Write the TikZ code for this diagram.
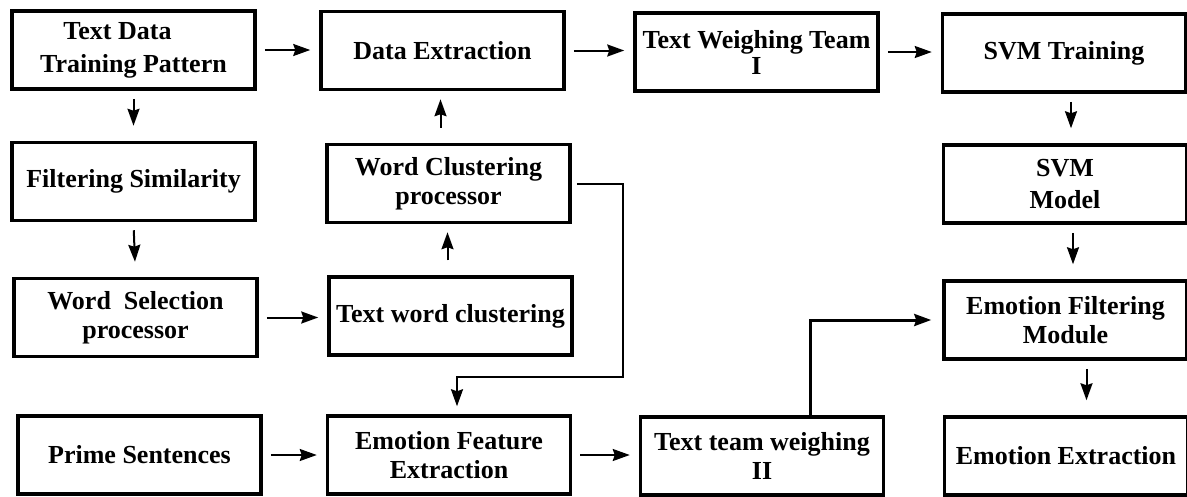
\documentclass[tikz,border=0pt]{standalone}
\usepackage{fontspec}
\setmainfont{Liberation Serif}
\usetikzlibrary{arrows.meta, calc}

\begin{document}
\begin{tikzpicture}[x=1pt, y=-1pt,
  blk/.style={draw, line width=3.5pt, minimum width=243pt, minimum height=78pt, inner sep=2pt, align=center, font=\bfseries\fontsize{26}{29}\selectfont},
  flow/.style={line width=2pt, -{Stealth[length=17pt, width=12pt, inset=2pt]}},
  rt/.style={flow, shorten <=8pt, shorten >=9pt},
  dn/.style={flow, shorten <=8pt, shorten >=15pt},
  upw/.style={flow, shorten <=15pt, shorten >=8pt}]
  \useasboundingbox (0,0) rectangle (1187,496);

  % Row 1
  \node[blk] (tdata) at (133.5,50) {Text Data\hspace*{32pt}\\[4pt]Training Pattern};
  \node[blk] (dextr) at (442.5,50.5) {Data Extraction};
  \node[blk] (weigh1) at (756.5,52) {Text Weighing Team\\[-3pt]I};
  \node[blk] (svmtr) at (1064,53) {SVM Training};

  % Row 2
  \node[blk] (filt) at (133.5,181.5) {Filtering Similarity};
  \node[blk] (wclus) at (448.5,183.5) {Word Clustering\\processor};
  \node[blk] (svmmod) at (1065,184) {SVM\\[3pt]Model};

  % Row 3
  \node[blk] (wsel) at (135.5,317.5) {Word~~Selection\\processor};
  \node[blk] (twclus) at (450.5,316) {Text word clustering};
  \node[blk] (efilt) at (1065.5,320) {Emotion Filtering\\Module};

  % Row 4
  \node[blk] (prime) at (139.5,455) {Prime Sentences};
  \node[blk] (efeat) at (449,455) {Emotion Feature\\Extraction};
  \node[blk] (weigh2) at (762,456) {Text team weighing\\II};
  \node[blk] (eextr) at (1066,456) {Emotion Extraction};

  % Straight arrows
  \draw[rt] (tdata.east) -- (tdata.east -| dextr.west);
  \draw[rt] (dextr.east) -- (dextr.east -| weigh1.west);
  \draw[rt] (weigh1.east) -- (weigh1.east -| svmtr.west);
  \draw[rt] (wsel.east) -- (wsel.east -| twclus.west);
  \draw[rt] (prime.east) -- (prime.east -| efeat.west);
  \draw[rt] (efeat.east) -- (efeat.east -| weigh2.west);
  \draw[dn] (tdata.south) -- (filt.north);
  \draw[dn] (filt.south) -- (wsel.north);
  \draw[upw] ([xshift=-8pt]wclus.north) -- ([xshift=-8pt]wclus.north |- dextr.south);
  \draw[upw] ([xshift=-3pt]twclus.north) -- ([xshift=-3pt]twclus.north |- wclus.south);
  \draw[dn] ([xshift=7pt]svmtr.south) -- ([xshift=7pt]svmtr.south |- svmmod.north);
  \draw[dn] ([xshift=8pt]svmmod.south) -- ([xshift=8pt]svmmod.south |- efilt.north);
  \draw[dn] ([xshift=21pt]efilt.south) -- ([xshift=21pt]efilt.south |- eextr.north);

  % Elbow connectors
  \coordinate (fturn) at (623,377);
  \draw[flow, shorten <=5pt, shorten >=8pt] (wclus.east) -| (fturn) -| ([xshift=8pt]efeat.north);
  \draw[flow, line width=3pt, shorten >=11pt] ([xshift=48pt]weigh2.north) |- (efilt.west);
\end{tikzpicture}
\end{document}
